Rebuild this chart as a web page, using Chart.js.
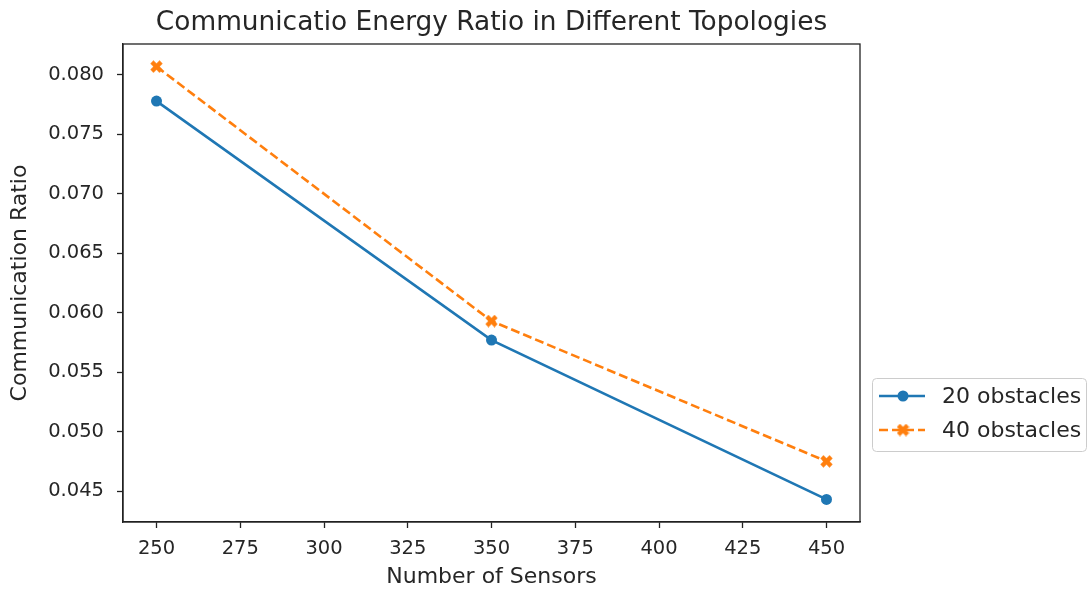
<!DOCTYPE html>
<html>
<head>
<meta charset="utf-8">
<script src="https://cdn.jsdelivr.net/npm/chart.js@4/dist/chart.umd.min.js"></script>
<style>
  html, body { margin: 0; padding: 0; background: #fff; }
  #wrap { width: 1088px; height: 592px; }
</style>
</head>
<body>
<div id="wrap"><canvas id="myChart" width="1088" height="592"></canvas></div>
<script>
// data
const sensors = [250, 350, 450];
const obstacles20 = [0.0778, 0.0577, 0.0443];
const obstacles40 = [0.0807, 0.0593, 0.0475];
const xTicks = [250, 275, 300, 325, 350, 375, 400, 425, 450];
const yTicks = [0.045, 0.05, 0.055, 0.06, 0.065, 0.07, 0.075, 0.08];

const blue = "#1f77b4";
const orange = "#ff7f0e";
const font = "'DejaVu Sans', sans-serif";
const textColor = "#262626";

// filled "X" marker like matplotlib's
function xMarker(color, size) {
  const cv = document.createElement("canvas");
  cv.width = size;
  cv.height = size;
  const c = cv.getContext("2d");
  const h = size / 2, w = size * 0.17;
  c.translate(h, h);
  c.rotate(Math.PI / 4);
  c.fillStyle = color;
  c.fillRect(-h, -w, size, w * 2);
  c.fillRect(-w, -h, w * 2, size);
  return cv;
}
const orangeX = xMarker(orange, 13);

// frame, title and legend drawn by hand
const extras = {
  id: "extras",
  afterDraw(chart) {
    const c = chart.ctx, a = chart.chartArea;
    c.save();
    c.strokeStyle = "#222";
    c.lineWidth = 1.3;
    c.strokeRect(a.left, a.top, a.right - a.left, a.bottom - a.top);

    c.fillStyle = textColor;
    c.font = "26.4px " + font;
    c.textAlign = "center";
    c.textBaseline = "middle";
    c.fillText("Communicatio Energy Ratio in Different Topologies", (a.left + a.right) / 2, 23);

    // legend
    const lx = 872, ly = 378, lw = 214, lh = 73;
    c.beginPath();
    c.roundRect(lx + 0.5, ly + 0.5, lw, lh, 4);
    c.fillStyle = "rgba(255,255,255,0.8)";
    c.fill();
    c.strokeStyle = "#cccccc";
    c.lineWidth = 1;
    c.stroke();

    const rows = [
      { label: "20 obstacles", color: blue, dash: [], y: 396, marker: "circle" },
      { label: "40 obstacles", color: orange, dash: [9, 4], y: 430, marker: "x" },
    ];
    rows.forEach((r) => {
      c.strokeStyle = r.color;
      c.lineWidth = 2.6;
      c.setLineDash(r.dash);
      c.beginPath();
      c.moveTo(879, r.y);
      c.lineTo(925, r.y);
      c.stroke();
      c.setLineDash([]);
      c.fillStyle = r.color;
      if (r.marker === "circle") {
        c.beginPath();
        c.arc(903, r.y, 5.5, 0, Math.PI * 2);
        c.fill();
      } else {
        c.drawImage(orangeX, 903 - 6.5, r.y - 6.5);
      }
      c.fillStyle = textColor;
      c.font = "22px " + font;
      c.textAlign = "left";
      c.fillText(r.label, 942, r.y + 1);
    });
    c.restore();
  },
};

const ctx = document.getElementById("myChart");

const lineChart = new Chart(ctx, {
  type: "line",
  data: {
    datasets: [
      {
        label: "20 obstacles",
        data: sensors.map((s, i) => ({ x: s, y: obstacles20[i] })),
        borderColor: blue,
        backgroundColor: blue,
        borderWidth: 2.6,
        pointStyle: "circle",
        pointRadius: 5.5,
        pointBorderWidth: 0,
        tension: 0,
      },
      {
        label: "40 obstacles",
        data: sensors.map((s, i) => ({ x: s, y: obstacles40[i] })),
        borderColor: orange,
        backgroundColor: orange,
        borderWidth: 2.6,
        borderDash: [9, 4],
        pointStyle: orangeX,
        pointRadius: 6,
        tension: 0,
      },
    ],
  },
  options: {
    responsive: false,
    animation: false,
    layout: { padding: { top: 44, right: 228, bottom: 0, left: 0 } },
    scales: {
      x: {
        type: "linear",
        min: 240,
        max: 460,
        afterBuildTicks: (scale) => {
          scale.ticks = xTicks.map((v) => ({ value: v }));
        },
        afterFit: (scale) => {
          scale.height = 70;
        },
        grid: {
          display: true,
          drawOnChartArea: false,
          tickLength: 6,
          tickColor: "#222",
          tickWidth: 1.3,
        },
        border: { display: true, color: "#222", width: 1.3 },
        ticks: {
          color: textColor,
          padding: 9,
          maxRotation: 0,
          font: { family: font, size: 19.5 },
        },
        title: {
          display: true,
          text: "Number of Sensors",
          color: textColor,
          padding: { top: 2, bottom: 2 },
          font: { family: font, size: 22 },
        },
      },
      y: {
        type: "linear",
        min: 0.0424,
        max: 0.0826,
        afterBuildTicks: (scale) => {
          scale.ticks = yTicks.map((v) => ({ value: v }));
        },
        afterFit: (scale) => {
          scale.width = 123;
        },
        grid: {
          display: true,
          drawOnChartArea: false,
          tickLength: 6,
          tickColor: "#222",
          tickWidth: 1.3,
        },
        border: { display: true, color: "#222", width: 1.3 },
        ticks: {
          color: textColor,
          padding: 13,
          font: { family: font, size: 19.5 },
          callback: (v) => v.toFixed(3),
        },
        title: {
          display: true,
          text: "Communication Ratio",
          color: textColor,
          padding: { top: 7, bottom: 4 },
          font: { family: font, size: 22 },
        },
      },
    },
    plugins: {
      legend: { display: false },
      title: { display: false },
      tooltip: { enabled: false },
    },
  },
  plugins: [extras],
});
</script>
</body>
</html>
